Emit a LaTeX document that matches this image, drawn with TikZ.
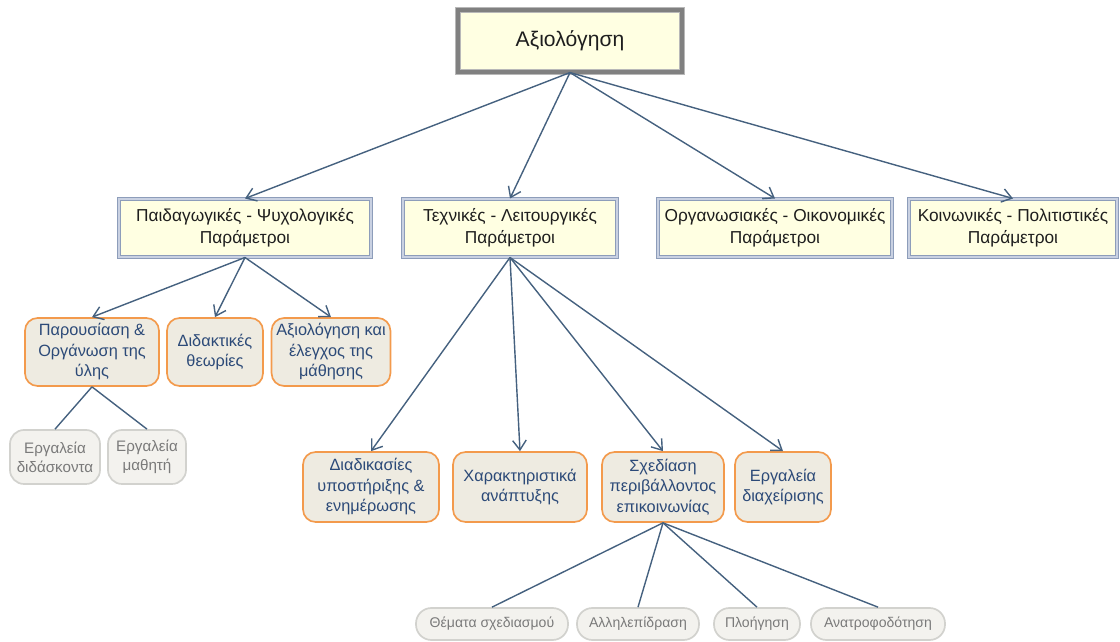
\documentclass[tikz,border=0pt]{standalone}
\usepackage{fontspec}
\setmainfont{Liberation Sans}
\usetikzlibrary{arrows.meta}
\definecolor{ink}{HTML}{1E1E1E}
\definecolor{navy}{HTML}{2C4A78}
\definecolor{edge}{HTML}{45617F}
\definecolor{cream}{HTML}{FFFFE2}
\definecolor{beige}{HTML}{EEEBE1}
\definecolor{pale}{HTML}{F3F2EE}
\definecolor{orangeline}{HTML}{F39A4C}
\definecolor{steel}{HTML}{8D9DBA}
\definecolor{steellight}{HTML}{C9D1E2}
\definecolor{greyline}{HTML}{D2D2CE}
\definecolor{greytext}{HTML}{7A7A7A}

\begin{document}
\begin{tikzpicture}[x=0.025cm,y=-0.025cm,text=ink,
    >={Straight Barb[length=2.4mm,width=3.4mm]},
    topbox/.style={draw=black!28,double=black!50,double distance=2.6pt,
      line width=.8pt,fill=cream,minimum width=5.6cm,minimum height=1.55cm,
      font=\fontsize{15}{18}\selectfont},
    parambox/.style={draw=steel,double=steellight,double distance=1.8pt,
      line width=.7pt,fill=cream,minimum height=1.45cm,align=center,
      font=\fontsize{12.3}{15.5}\selectfont},
    subbox/.style={draw=orangeline,line width=1.2pt,fill=beige,
      rounded corners=9pt,align=center,text=navy,
      font=\fontsize{11.6}{14.6}\selectfont},
    toolbox/.style={draw=greyline,line width=1.2pt,fill=pale,
      rounded corners=10pt,align=center,text=greytext,
      minimum height=1.35cm,font=\fontsize{10.8}{13.5}\selectfont},
    leafbox/.style={draw=greyline,line width=1.2pt,fill=pale,
      rounded corners=11pt,text=greytext,minimum height=.8cm,
      font=\fontsize{10}{12}\selectfont},
    link/.style={draw=edge,line width=1pt}]
  \useasboundingbox (0,0) rectangle (1120,642);

  % root
  \node[topbox] (eval) at (570,41) {Αξιολόγηση};

  % parameter groups
  \node[parambox,minimum width=6.3cm] (ped) at (245,228)
    {Παιδαγωγικές - Ψυχολογικές\\Παράμετροι};
  \node[parambox,minimum width=5.35cm] (tech) at (510,228)
    {Τεχνικές - Λειτουργικές\\Παράμετροι};
  \node[parambox,minimum width=5.85cm] (org) at (775,228)
    {Οργανωσιακές - Οικονομικές\\Παράμετροι};
  \node[parambox,minimum width=5.2cm] (soc) at (1013,228)
    {Κοινωνικές - Πολιτιστικές\\Παράμετροι};

  % pedagogical branch
  \node[subbox,minimum width=3.35cm,minimum height=1.7cm] (pres) at (92,352)
    {Παρουσίαση \&\\Οργάνωση της\\ύλης};
  \node[subbox,minimum width=2.4cm,minimum height=1.7cm] (did) at (215,352)
    {Διδακτικές\\θεωρίες};
  \node[subbox,minimum width=2.95cm,minimum height=1.7cm] (ctrl) at (331,352)
    {Αξιολόγηση και\\έλεγχος της\\μάθησης};
  \node[toolbox,minimum width=2.25cm] (tteach) at (55,457)
    {Εργαλεία\\διδάσκοντα};
  \node[toolbox,minimum width=1.95cm] (tstud) at (147,457)
    {Εργαλεία\\μαθητή};

  % technical branch
  \node[subbox,minimum width=3.4cm,minimum height=1.75cm] (supp) at (371,487)
    {Διαδικασίες\\υποστήριξης \&\\ενημέρωσης};
  \node[subbox,minimum width=3.35cm,minimum height=1.75cm] (feat) at (520,487)
    {Χαρακτηριστικά\\ανάπτυξης};
  \node[subbox,minimum width=3.05cm,minimum height=1.75cm] (design) at (663,487)
    {Σχεδίαση\\περιβάλλοντος\\επικοινωνίας};
  \node[subbox,minimum width=2.4cm,minimum height=1.75cm] (mgmt) at (783,487)
    {Εργαλεία\\διαχείρισης};

  % design leaves
  \node[leafbox,minimum width=3.8cm] (topics) at (492,624) {Θέματα σχεδιασμού};
  \node[leafbox,minimum width=3.05cm] (inter) at (638,624) {Αλληλεπίδραση};
  \node[leafbox,minimum width=2.15cm] (nav) at (757,624) {Πλοήγηση};
  \node[leafbox,minimum width=3.35cm] (fback) at (878,624) {Ανατροφοδότηση};

  % connectors
  \foreach \t in {ped,tech,org,soc}
    \draw[link,->] (eval.south) -- (\t.north);
  \foreach \t in {pres,did,ctrl}
    \draw[link,->] (ped.south) -- (\t.north);
  \foreach \t in {supp,feat,design,mgmt}
    \draw[link,->] (tech.south) -- (\t.north);
  \foreach \t in {tteach,tstud}
    \draw[link] (pres.south) -- (\t.north);
  \foreach \t in {topics,inter,nav,fback}
    \draw[link] (design.south) -- (\t.north);
\end{tikzpicture}
\end{document}
